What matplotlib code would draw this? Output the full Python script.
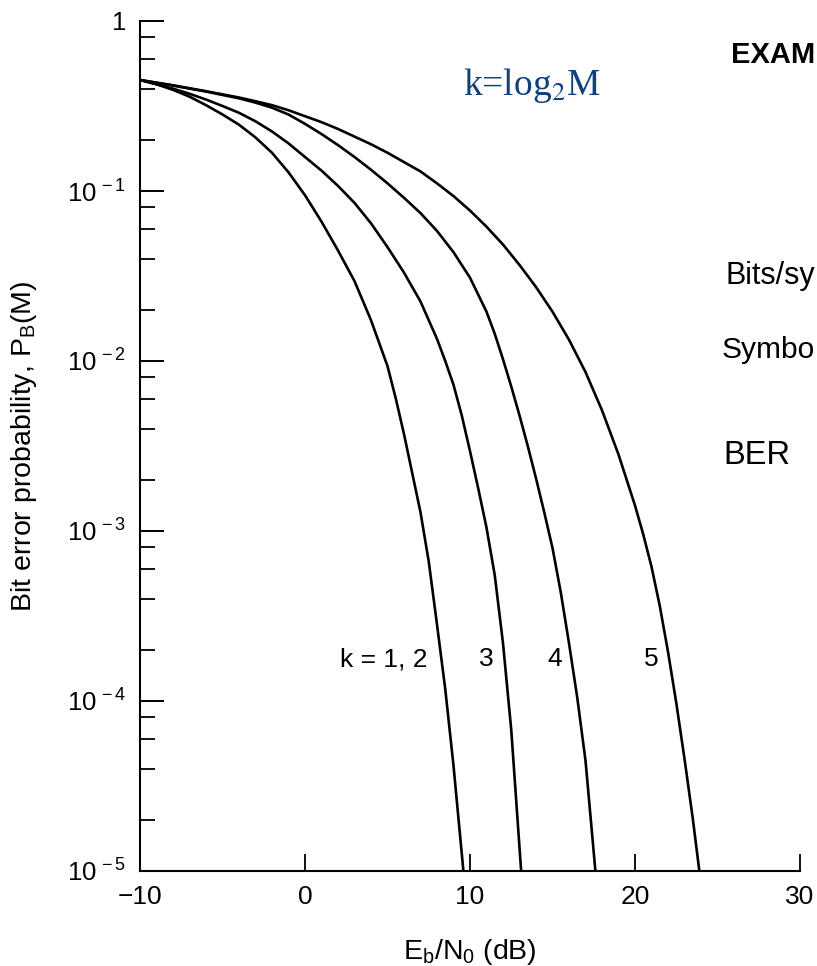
import matplotlib
matplotlib.use("Agg")
import numpy as np
import matplotlib.pyplot as plt
from matplotlib.ticker import FixedLocator, LogLocator, NullFormatter

plt.rcParams["font.family"] = ["Liberation Sans", "DejaVu Sans"]
plt.rcParams["mathtext.fontset"] = "custom"
plt.rcParams["mathtext.rm"] = "Liberation Sans"
plt.rcParams["mathtext.it"] = "Liberation Sans:italic"
plt.rcParams["mathtext.bf"] = "Liberation Sans:bold"

# Eb/N0 (dB) and log10 of the bit error probability for each k = log2 M
ebn0_k12 = [-10, -9, -8, -7, -6, -5, -4, -3, -2, -1, 0, 1, 2, 3, 4, 5, 5.5,
            6, 6.5, 7, 7.5, 8, 8.5, 9, 9.6]
logpb_k12 = [-0.347, -0.372, -0.405, -0.445, -0.495, -0.55, -0.61, -0.685,
             -0.775, -0.89, -1.025, -1.18, -1.35, -1.53, -1.76, -2.03, -2.22,
             -2.43, -2.66, -2.89, -3.18, -3.55, -3.93, -4.38, -5.0]

ebn0_k3 = [-10, -9, -8, -7, -6, -5, -4, -3, -2, -1, 0, 1, 2, 3, 4, 5, 6, 7,
           8, 8.5, 9, 9.5, 10, 10.5, 11, 11.5, 12, 12.5, 13.1]
logpb_k3 = [-0.347, -0.372, -0.398, -0.428, -0.462, -0.50, -0.54, -0.59,
            -0.65, -0.72, -0.80, -0.88, -0.97, -1.07, -1.19, -1.33, -1.48,
            -1.65, -1.87, -2.0, -2.14, -2.32, -2.53, -2.75, -2.98, -3.26,
            -3.66, -4.17, -5.0]

ebn0_k4 = [-10, -8, -6, -4, -3, -2, -1, 0, 1, 2, 3, 4, 5, 6, 7, 8, 9, 10,
           11, 11.5, 12, 12.5, 13, 13.5, 14, 14.5, 15, 15.5, 16, 16.5, 17,
           17.6]
logpb_k4 = [-0.347, -0.38, -0.415, -0.455, -0.48, -0.51, -0.55, -0.605,
            -0.665, -0.73, -0.80, -0.875, -0.955, -1.04, -1.13, -1.235, -1.36,
            -1.51, -1.71, -1.84, -1.99, -2.15, -2.32, -2.50, -2.69, -2.89,
            -3.10, -3.36, -3.66, -3.98, -4.35, -5.0]

ebn0_k5 = [-10, -8, -6, -4, -3, -2, -1, 0, 1, 2, 3, 4, 5, 6, 7, 8, 9, 10,
           11, 12, 13, 14, 15, 16, 17, 18, 19, 20, 20.5, 21, 21.5, 22, 22.5,
           23, 23.5, 23.9]
logpb_k5 = [-0.347, -0.378, -0.413, -0.45, -0.472, -0.495, -0.525, -0.56,
            -0.595, -0.635, -0.68, -0.725, -0.775, -0.83, -0.885, -0.955,
            -1.03, -1.115, -1.21, -1.315, -1.435, -1.565, -1.71, -1.875,
            -2.065, -2.29, -2.55, -2.85, -3.02, -3.21, -3.44, -3.71, -4.01,
            -4.34, -4.69, -5.0]

curve_names = ["k = 1, 2", "3", "4", "5"]
curve_label_x = [7.45, 11.45, 15.6, 21.45]
curve_label_y = 1.76e-4

x_ticks = [-10, 0, 10, 20, 30]
x_tick_labels = ["\u221210", "0", "10", "20", "30"]
y_ticks = [1e-5, 1e-4, 1e-3, 1e-2, 1e-1, 1]
y_tick_labels = [r"$10^{\,-5}$", r"$10^{\,-4}$", r"$10^{\,-3}$",
                 r"$10^{\,-2}$", r"$10^{\,-1}$", "1"]

W, H = 817, 966
fig = plt.figure(figsize=(W / 100, H / 100), dpi=100)
ax = fig.add_axes([140 / W, 1 - 871 / H, 660 / W, 850 / H])

series = [(ebn0_k12, logpb_k12), (ebn0_k3, logpb_k3),
          (ebn0_k4, logpb_k4), (ebn0_k5, logpb_k5)]
for xs, lys in series:
    ax.plot(xs, np.power(10.0, lys), color="black", lw=1.9,
            solid_joinstyle="round", solid_capstyle="butt")

ax.set_yscale("log")
ax.set_xlim(-10, 30)
ax.set_ylim(1e-5, 1)

for s in ("top", "right"):
    ax.spines[s].set_visible(False)
for s in ("left", "bottom"):
    ax.spines[s].set_linewidth(1.5)

ax.xaxis.set_major_locator(FixedLocator(x_ticks))
ax.set_xticklabels(x_tick_labels)
ax.yaxis.set_major_locator(FixedLocator(y_ticks))
ax.set_yticklabels(y_tick_labels)
ax.yaxis.set_minor_locator(LogLocator(base=10, subs=(2, 4, 6, 8)))
ax.yaxis.set_minor_formatter(NullFormatter())
ax.xaxis.set_minor_locator(FixedLocator([]))

ax.tick_params(axis="y", which="major", direction="in", length=17, width=1.4,
               labelsize=18.5, pad=10)
ax.tick_params(axis="y", which="minor", direction="in", length=11, width=1.3)
ax.tick_params(axis="x", which="major", direction="in", length=12, width=1.3,
               labelsize=19, pad=10)

ax.set_xlabel(r"$\mathrm{E_b/N_0}$ (dB)", fontsize=20.5, labelpad=20)
ax.set_ylabel(r"Bit error probability, $\mathrm{P_B(M)}$", fontsize=20.5,
              labelpad=20)

for name, lx in zip(curve_names, curve_label_x):
    ax.text(lx, curve_label_y, name, fontsize=19, ha="right", va="center")

# Side annotations
fig.text(463 / W, 1 - 95 / H, r"k=log$_2$M", fontsize=27, color="#12417a",
         family="Liberation Serif", ha="left", va="baseline",
         math_fontfamily="stix")
fig.text(731 / W, 1 - 55 / H, "EXAM", fontsize=21, weight="bold",
         ha="left", va="center")
fig.text(725 / W, 1 - 276 / H, "Bits/sy", fontsize=22, ha="left", va="center")
fig.text(722 / W, 1 - 350 / H, "Symbo", fontsize=21.5, ha="left", va="center")
fig.text(723 / W, 1 - 455 / H, "BER", fontsize=23.5, ha="left", va="center")

fig.savefig("out.png", dpi=100)
